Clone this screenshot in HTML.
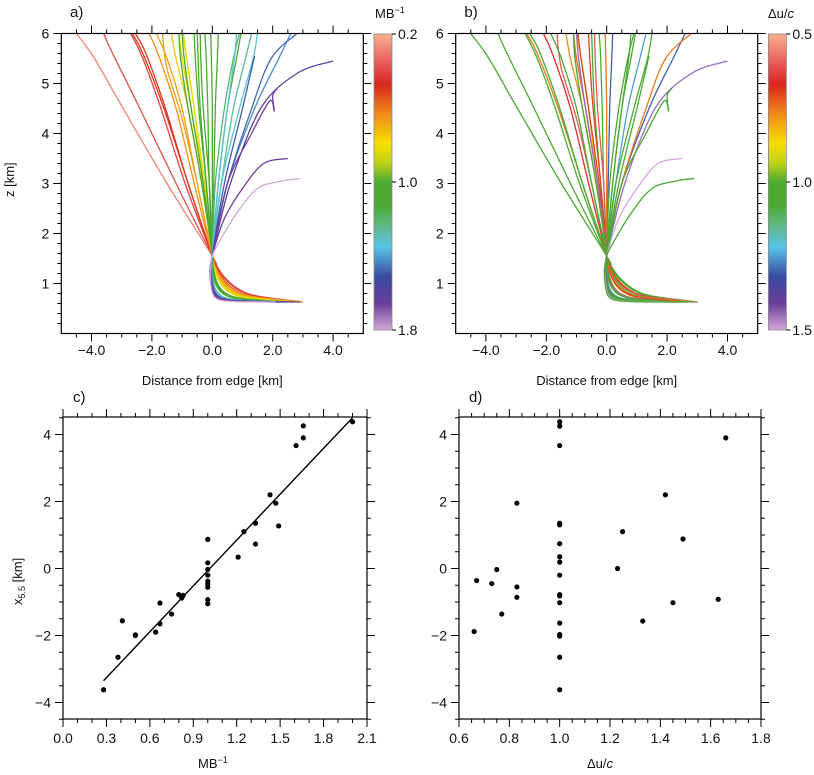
<!DOCTYPE html>
<html><head><meta charset="utf-8">
<style>
html,body{margin:0;padding:0;background:#fff;}
svg{display:block;font-family:"Liberation Sans",Arial,sans-serif;}
</style></head>
<body>
<svg id="fig" width="814" height="775" viewBox="0 0 814 775" xmlns="http://www.w3.org/2000/svg">
<defs>
<linearGradient id="cmap" x1="0" y1="0" x2="0" y2="1">
<stop offset="0" stop-color="#f6b08e"/>
<stop offset="0.1" stop-color="#e8595a"/>
<stop offset="0.17" stop-color="#d7261e"/>
<stop offset="0.27" stop-color="#f08a1c"/>
<stop offset="0.37" stop-color="#f7df00"/>
<stop offset="0.44" stop-color="#b8d01a"/>
<stop offset="0.5" stop-color="#4aaa32"/>
<stop offset="0.58" stop-color="#4aaa32"/>
<stop offset="0.65" stop-color="#5fb88a"/>
<stop offset="0.72" stop-color="#58c4e8"/>
<stop offset="0.82" stop-color="#3a4aa0"/>
<stop offset="0.91" stop-color="#6a3d9a"/>
<stop offset="1" stop-color="#d2a8d8"/>
</linearGradient>
</defs>
</svg>
<script>
// ---- data ----
const trajMB = [0.28,0.38,0.41,0.50,0.50,0.64,0.67,0.67,0.75,0.80,0.82,0.83,1.0,1.0,1.0,1.0,1.0,1.0,1.0,1.0,1.0,1.21,1.25,1.33,1.33,1.43,1.47,1.49,1.61,1.66,1.66,1.80];
const trajDU = [1.0,1.0,1.0,0.75,1.0,0.66,0.6,1.0,0.77,0.83,0.73,0.7,1.0,1.3,0.75,1.0,0.6,1.0,0.7,1.45,1.0,1.0,1.25,1.0,1.0,1.3,0.75,1.0,1.45,1.0,1.5,1.0];
const trajBase = [3.0,2.9,3.0,2.8,2.7,2.9,3.0,2.6,2.5,2.7,2.4,2.6,2.3,2.2,2.0,2.4,2.5,2.1,2.6,2.2,2.3,2.0,2.1,2.2,2.5,2.0,2.3,2.4,2.2,2.9,2.0,2.1];
const trajBend = [1.0,1.0,0.95,0.9,0.9,0.85,0.8,0.8,0.75,0.7,0.7,0.7,0.55,0.5,0.6,0.45,0.5,0.55,0.4,0.5,0.45,0.3,0.3,0.25,0.2,0.2,0.15,0.15,0.1,0.05,0.05,0.0];
const trajUpper = [
 [[-1.5,3.0],[-3.0,4.55],[-3.9,5.5],[-4.5,6]],
 [[-1.2,3.0],[-2.4,4.5],[-3.3,5.6],[-3.6,6]],
 [[-0.9,3],[-1.7,4.5],[-2.3,5.5],[-2.7,6]],
 [[-0.8,3],[-1.6,4.5],[-2.3,5.6],[-2.65,6]],
 [[-0.8,3],[-1.55,4.5],[-2.2,5.6],[-2.55,6]],
 [[-0.6,3],[-1.2,4.5],[-1.8,5.6],[-2.1,6]],
 [[-0.5,3],[-1.0,4.3],[-1.5,5.3],[-1.65,6]],
 [[-0.5,3],[-1.0,4.5],[-1.5,5.5],[-1.85,6]],
 [[-0.35,3],[-0.8,4.5],[-1.2,5.5],[-1.35,6]],
 [[-0.3,3],[-0.6,4.5],[-0.85,5.5],[-1.0,6]],
 [[-0.3,3],[-0.7,4.5],[-1.0,5.5],[-1.1,6]],
 [[-0.25,3],[-0.6,4.5],[-0.85,5.5],[-0.95,6]],
 [[0.2,3],[0.5,4.5],[0.8,5.5],[0.95,6]],
 [[0.05,3],[0.1,4.5],[0.17,5.5],[0.2,6]],
 [[0,3],[0,4.5],[-0.03,5.5],[-0.05,6]],
 [[-0.1,3],[-0.15,4.5],[-0.2,5.5],[-0.25,6]],
 [[-0.1,3],[-0.3,4.5],[-0.38,5.5],[-0.4,6]],
 [[-0.2,3],[-0.4,4.5],[-0.47,5.5],[-0.5,6]],
 [[-0.2,3],[-0.45,4.5],[-0.56,5.5],[-0.6,6]],
 [[-0.3,3],[-0.7,4.5],[-0.93,5.5],[-1.0,6]],
 [[-0.35,3],[-0.8,4.5],[-1.05,5.5],[-1.1,6]],
 [[0.1,3],[0.4,4.5],[0.7,5.5],[0.9,6]],
 [[0.3,3],[0.7,4.5],[1.1,5.5],[1.3,6]],
 [[0.3,3],[0.9,4.5],[1.35,5.5],[1.5,6]],
 [[0.2,3],[0.5,4.5],[0.73,5.5],[0.8,6]],
 [[0.5,3],[1.4,4.5],[2.2,5.5],[2.6,6]],
 [[0.5,3],[1.3,4.5],[1.95,5.5],[2.8,6]],
 [[0.4,3],[1.0,4.5],[1.4,5.55]],
 [[0.6,3],[1.6,4.5],[2.8,5.2],[4.0,5.45]],
 [[0.5,3],[1.3,4.0],[1.9,4.65],[2.05,4.45],[2.0,4.75],[2.15,4.9]],
 [[0.4,2.3],[1.0,2.9],[1.7,3.4],[2.5,3.5]],
 [[0.2,1.8],[0.8,2.4],[1.5,2.9],[2.3,3.05],[2.9,3.1]]
];
const lowerTight = [[1.0,0.63],[0.35,0.64],[0.1,0.68],[0.0,0.82],[-0.03,1.2],[0,1.55]];
const lowerWide = [[1.0,0.63],[0.5,0.75],[0.3,0.88],[0.15,1.1],[0.05,1.35],[0,1.55]];
const cMB = [0.28,0.38,0.41,0.50,0.50,0.64,0.67,0.67,0.75,0.80,0.82,0.83,1.0,1.0,1.0,1.0,1.0,1.0,1.0,1.0,1.0,1.21,1.25,1.33,1.33,1.43,1.47,1.49,1.61,1.66,1.66,2.0];
const cX = [-3.62,-2.65,-1.56,-1.98,-2.0,-1.9,-1.03,-1.65,-1.36,-0.78,-0.88,-0.8,0.87,0.17,-0.03,-0.2,-0.38,-0.47,-0.56,-0.93,-1.05,0.34,1.1,1.35,0.73,2.2,1.95,1.27,3.67,4.26,3.9,4.38];
const fitX = [0.28,2.0];
const fitY = [-3.35,4.5];
const dDU = [0.66,0.67,0.73,0.75,0.77,0.83,0.83,0.83,1.0,1.0,1.0,1.0,1.0,1.0,1.0,1.0,1.0,1.0,1.0,1.0,1.0,1.0,1.0,1.0,1.0,1.23,1.25,1.33,1.42,1.45,1.49,1.63,1.66];
const dX = [-1.88,-0.36,-0.45,-0.03,-1.36,1.95,-0.55,-0.86,4.38,4.25,3.67,1.35,1.3,0.74,0.35,0.19,-0.2,-0.78,-0.82,-1.02,-1.63,-1.97,-2.02,-2.65,-3.62,0.0,1.1,-1.57,2.2,-1.02,0.88,-0.92,3.9];
const ticksTraj = [-4.0,-2.0,0.0,2.0,4.0];
const ticksZ = [1,2,3,4,5,6];
const ticksCX = [0.0,0.3,0.6,0.9,1.2,1.5,1.8,2.1];
const ticksDX = [0.6,0.8,1.0,1.2,1.4,1.6,1.8];
const ticksY = [-4,-2,0,2,4];

const NS="http://www.w3.org/2000/svg";
const svg=document.getElementById('fig');
function mk(tag,attrs,parent){const e=document.createElementNS(NS,tag);for(const k in attrs)e.setAttribute(k,attrs[k]);(parent||svg).appendChild(e);return e;}
function txt(s,x,y,opt,parent){const e=mk('text',Object.assign({x:x,y:y,'font-size':13,fill:'#111'},opt||{}),parent);e.textContent=s;return e;}

const stops=[[0,[246,176,142]],[0.1,[232,89,90]],[0.17,[215,38,30]],[0.27,[240,138,28]],[0.37,[247,223,0]],[0.44,[184,208,26]],[0.5,[74,170,50]],[0.58,[74,170,50]],[0.65,[95,184,138]],[0.72,[88,196,232]],[0.82,[58,74,160]],[0.91,[106,61,154]],[1,[210,168,216]]];
function cmap(f){f=Math.max(0,Math.min(1,f));for(let i=1;i<stops.length;i++){if(f<=stops[i][0]){const a=stops[i-1],b=stops[i];const t=(f-a[0])/(b[0]-a[0]);const c=a[1].map((v,j)=>Math.round(v+(b[1][j]-v)*t));return `rgb(${c[0]},${c[1]},${c[2]})`;}}return 'rgb(210,168,216)';}
function smooth(pts){let d=`M${pts[0][0].toFixed(1)},${pts[0][1].toFixed(1)}`;for(let i=0;i<pts.length-1;i++){const p0=pts[i-1]||pts[i],p1=pts[i],p2=pts[i+1],p3=pts[i+2]||p2;const c1=[p1[0]+(p2[0]-p0[0])/6,p1[1]+(p2[1]-p0[1])/6],c2=[p2[0]-(p3[0]-p1[0])/6,p2[1]-(p3[1]-p1[1])/6];d+=`C${c1[0].toFixed(1)},${c1[1].toFixed(1)} ${c2[0].toFixed(1)},${c2[1].toFixed(1)} ${p2[0].toFixed(1)},${p2[1].toFixed(1)}`;}return d;}

function trajPanel(ox,label,colorVals,vmin,vmax,cbTicks,name){
  const X=x=>ox+212.3+x*30.2, Y=z=>333.5-z*50;
  const g=mk('g',{});
  
  
  const L=X(-5),R=X(5),T=Y(6),B=Y(0);
  colorVals.forEach((cv,i)=>{
    const b=trajBend[i];
    const lower=lowerTight.map((p,k)=>{const q=lowerWide[k];const fx=p[0]+(q[0]-p[0])*b, fz=p[1]+(q[1]-p[1])*b;return [X(fx*trajBase[i]),Y(fz)];});
    const pts=lower.concat(trajUpper[i].map(p=>[X(p[0]),Y(p[1])]));
    const p=mk('path',{d:smooth(pts),fill:'none',stroke:cmap((cv-vmin)/(vmax-vmin)),'stroke-width':1.3},g);
    
    
  });
  const box=mk('rect',{x:L,y:T,width:R-L,height:B-T,fill:'none',stroke:'#000','stroke-width':1.2},g);
  
  
  for(let v=-4.5;v<=4.51;v+=0.5){const maj=Math.abs(v%2)<0.01;const l=maj?8:4;
    mk('line',{x1:X(v),x2:X(v),y1:B,y2:B+l,stroke:'#000'},g);mk('line',{x1:X(v),x2:X(v),y1:T,y2:T-l,stroke:'#000'},g);}
  for(let v=0.2;v<=6.01;v+=0.2){const maj=Math.abs(v-Math.round(v))<0.01;const l=maj?8:4;
    mk('line',{x1:L,x2:L-l,y1:Y(v),y2:Y(v),stroke:'#000'},g);mk('line',{x1:R,x2:R+l,y1:Y(v),y2:Y(v),stroke:'#000'},g);}
  ticksTraj.forEach(v=>{const t=txt((v<0?'\u2212':'')+Math.abs(v).toFixed(1),X(v),355,{'text-anchor':'middle','font-size':14},g);});
  ticksZ.forEach(v=>{const t=txt(String(v),L-12,Y(v)+5,{'text-anchor':'end','font-size':14},g);});
  const xt=txt('Distance from edge [km]',X(0),385,{'text-anchor':'middle','font-size':13},g);
  
  const pl=txt(label,ox+70,17,{'font-size':15},g);
  
  const cx=ox+374;
  const cb=mk('rect',{x:cx,y:34,width:18,height:296,fill:'url(#cmap)',stroke:'#888','stroke-width':0.8},g);
  
  cbTicks.forEach(v=>{const y=34+296*(v-vmin)/(vmax-vmin);mk('line',{x1:cx+18,x2:cx+22,y1:y,y2:y,stroke:'#000'},g);
    const t=txt(v.toFixed(1),cx+24,y+5,{'font-size':14},g);});
  return g;
}
trajPanel(0,'a)',trajMB,0.2,1.8,[0.2,1.0,1.8],'panel-a');
trajPanel(394.4,'b)',trajDU,0.5,1.5,[0.5,1.0,1.5],'panel-b');
let t=txt('MB',375,18,{'font-size':13});
let ts=mk('tspan',{'font-size':9,dy:-5},t);ts.textContent='\u22121';
t=txt('\u0394u/',768,18,{'font-size':13});
ts=mk('tspan',{'font-style':'italic'},t);ts.textContent='c';

function scatterPanel(L,R,xmin,xmax,xs,ys,xticks,minorStep,label,name,fit){
  const T=417,B=719;
  const X=v=>L+(v-xmin)/(xmax-xmin)*(R-L), Y=v=>568.5-v*33.5;
  const g=mk('g',{});
  
  
  const box=mk('rect',{x:L,y:T,width:R-L,height:B-T,fill:'none',stroke:'#000','stroke-width':1.2},g);
  
  const n=Math.round((xmax-xmin)/minorStep);
  for(let i=0;i<=n;i++){const v=xmin+i*minorStep;const maj=xticks.some(k=>Math.abs(k-v)<1e-6);const l=maj?8:4;
    mk('line',{x1:X(v),x2:X(v),y1:B,y2:B+l,stroke:'#000'},g);mk('line',{x1:X(v),x2:X(v),y1:T,y2:T-l,stroke:'#000'},g);}
  for(let v=-4.5;v<=4.51;v+=0.5){const maj=Math.abs(v%2)<0.01;const l=maj?8:4;
    mk('line',{x1:L,x2:L-l,y1:Y(v),y2:Y(v),stroke:'#000'},g);mk('line',{x1:R,x2:R+l,y1:Y(v),y2:Y(v),stroke:'#000'},g);}
  xticks.forEach(v=>{const t=txt(v.toFixed(1),X(v),743,{'text-anchor':'middle','font-size':14},g);});
  ticksY.forEach(v=>{const t=txt((v<0?'\u2212':'')+Math.abs(v),L-12,Y(v)+5,{'text-anchor':'end','font-size':14},g);});
  if(fit){const ln=mk('line',{x1:X(fit[0][0]),y1:Y(fit[1][0]),x2:X(fit[0][1]),y2:Y(fit[1][1]),stroke:'#000','stroke-width':1.4},g);
    }
  xs.forEach((v,i)=>{const c=mk('circle',{cx:X(v),cy:Y(ys[i]),r:2.6,fill:'#000'},g);
    });
  const pl=txt(label,L+10,402,{'font-size':15},g);
  
  return g;
}
scatterPanel(63,367,0,2.1,cMB,cX,ticksCX,0.1,'c)','panel-c',[fitX,fitY]);
scatterPanel(459,761,0.6,1.8,dDU,dX,ticksDX,0.05,'d)','panel-d',null);
t=txt('MB',198,768,{'font-size':13});
ts=mk('tspan',{'font-size':9,dy:-5},t);ts.textContent='\u22121';
t=txt('\u0394u/',587,768,{'font-size':13});
ts=mk('tspan',{'font-style':'italic'},t);ts.textContent='c';
t=txt('z [km]',0,0,{'font-size':13,transform:'translate(14,197) rotate(-90)'});
t=txt('x',0,0,{'font-size':13,transform:'translate(22,605) rotate(-90)'});
ts=mk('tspan',{'font-size':9,dy:3},t);ts.textContent='5.5';
ts=mk('tspan',{dy:-3},t);ts.textContent=' [km]';
</script>
</body></html>
